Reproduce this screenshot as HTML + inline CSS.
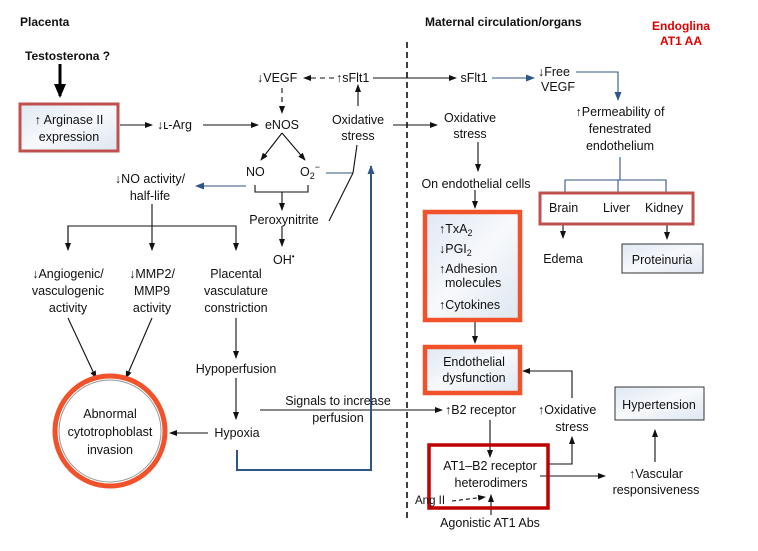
<!DOCTYPE html>
<html><head><meta charset="utf-8"><style>
html,body{margin:0;padding:0;background:#fff;}
svg{display:block;font-family:"Liberation Sans",Arial,sans-serif;}
text{font-size:12.5px;fill:#111;}
.b{font-weight:bold;}
.c{text-anchor:middle;}
</style></head><body>
<svg width="758" height="551" viewBox="0 0 758 551">
<defs>
<marker id="a" markerWidth="8" markerHeight="6" refX="7" refY="3" orient="auto" markerUnits="userSpaceOnUse"><path d="M0,0 L8,3 L0,6z" fill="#111"/></marker>
<marker id="ab" markerWidth="9" markerHeight="7" refX="8" refY="3.5" orient="auto" markerUnits="userSpaceOnUse"><path d="M0,0 L9,3.5 L0,7z" fill="#2f5686"/></marker>
<marker id="ak" markerWidth="14" markerHeight="12" refX="12" refY="6" orient="auto" markerUnits="userSpaceOnUse"><path d="M0,0 L14,6 L0,12z" fill="#000"/></marker>
<linearGradient id="g" x1="0" y1="0" x2="1" y2="1"><stop offset="0" stop-color="#dfe8f3"/><stop offset="0.5" stop-color="#f7f9fc"/><stop offset="1" stop-color="#dde6f1"/></linearGradient>
</defs>
<g stroke="#111" stroke-width="1.1" fill="none">
<line x1="60" y1="64" x2="60" y2="96" stroke-width="3" stroke="#000" marker-end="url(#ak)"/>
<line x1="120" y1="125" x2="152" y2="125" marker-end="url(#a)"/>
<line x1="203" y1="125" x2="258" y2="125" marker-end="url(#a)"/>
<line x1="334" y1="78" x2="304" y2="78" stroke-dasharray="5,4" marker-end="url(#a)"/>
<line x1="282" y1="88" x2="282" y2="113" stroke-dasharray="5,4" marker-end="url(#a)"/>
<line x1="358" y1="106" x2="358" y2="85" marker-end="url(#a)"/>
<line x1="373" y1="78" x2="456" y2="78" marker-end="url(#a)"/>
<line x1="393" y1="125" x2="437" y2="125" marker-end="url(#a)"/>
<line x1="282" y1="133" x2="261" y2="160" marker-end="url(#a)"/>
<line x1="282" y1="133" x2="305" y2="160" marker-end="url(#a)"/>
<polyline points="255,185 255,192 308,192 308,185"/>
<line x1="282" y1="192" x2="282" y2="210" marker-end="url(#a)"/>
<line x1="282" y1="226" x2="282" y2="246" marker-end="url(#a)"/>
<line x1="246" y1="186" x2="196" y2="186" stroke="#2f5686" marker-end="url(#ab)"/>
<line x1="326" y1="173" x2="353" y2="173" stroke="#2f5686"/>
<line x1="353" y1="173" x2="357" y2="145"/>
<line x1="353" y1="173" x2="329" y2="221"/>
<line x1="152" y1="204" x2="152" y2="250" marker-end="url(#a)"/>
<polyline points="68,250 68,226 236,226 236,250" marker-end="url(#a)"/>
<line x1="68" y1="226" x2="68" y2="250" marker-end="url(#a)"/>
<line x1="236" y1="318" x2="236" y2="358" marker-end="url(#a)"/>
<line x1="236" y1="378" x2="236" y2="419" marker-end="url(#a)"/>
<line x1="208" y1="433" x2="170" y2="433" marker-end="url(#a)"/>
<line x1="68" y1="318" x2="96" y2="378" marker-end="url(#a)"/>
<line x1="152" y1="318" x2="126" y2="378" marker-end="url(#a)"/>
<line x1="260" y1="410" x2="442" y2="410" marker-end="url(#a)"/>
<polyline points="237,450 237,470 371,470 371,166" stroke="#2f5686" stroke-width="2" marker-end="url(#ab)"/>
<line x1="407" y1="42" x2="407" y2="520" stroke-dasharray="6,4" stroke-width="1.6"/>
<line x1="492" y1="78" x2="534" y2="78" stroke="#2f5686" marker-end="url(#ab)"/>
<polyline points="576,72 618,72 618,100" stroke="#2f5686" marker-end="url(#ab)"/>
<line x1="478" y1="142" x2="478" y2="171" marker-end="url(#a)"/>
<line x1="475" y1="190" x2="475" y2="208" marker-end="url(#a)"/>
<line x1="620" y1="157" x2="620" y2="180" stroke="#2f5686"/>
<polyline points="565,192 565,180 666,180 666,192" stroke="#2f5686"/>
<line x1="618" y1="180" x2="618" y2="192" stroke="#2f5686"/>
<line x1="563" y1="224" x2="563" y2="238" marker-end="url(#a)"/>
<line x1="667" y1="224" x2="667" y2="239" marker-end="url(#a)"/>
<line x1="475" y1="322" x2="475" y2="343" marker-end="url(#a)"/>
<polyline points="572,398 572,371 523,371" marker-end="url(#a)"/>
<line x1="490" y1="420" x2="490" y2="457" marker-end="url(#a)"/>
<polyline points="548,464 572,464 572,437" marker-end="url(#a)"/>
<line x1="540" y1="476" x2="605" y2="476" marker-end="url(#a)"/>
<line x1="655" y1="462" x2="655" y2="430" marker-end="url(#a)"/>
<line x1="452" y1="501" x2="485" y2="497" stroke-dasharray="4,3" marker-end="url(#a)"/>
<line x1="491" y1="515" x2="491" y2="495" marker-end="url(#a)"/>
</g>
<rect x="20" y="104" width="98" height="47" fill="url(#g)" stroke="#c0504d" stroke-width="3"/>
<rect x="425" y="212" width="95" height="108" fill="url(#g)" stroke="#f2522a" stroke-width="4.5"/>
<rect x="425" y="347" width="95" height="46" fill="url(#g)" stroke="#f2522a" stroke-width="4.5"/>
<rect x="540" y="193" width="153" height="31" fill="none" stroke="#c0504d" stroke-width="3"/>
<rect x="622" y="244" width="81" height="29" fill="url(#g)" stroke="#333" stroke-width="1"/>
<rect x="615" y="387" width="89" height="33" fill="url(#g)" stroke="#333" stroke-width="1"/>
<rect x="429" y="445" width="119" height="63" fill="none" stroke="#c00000" stroke-width="3.5"/>
<circle cx="110" cy="431" r="55" fill="#fff" stroke="#f2522a" stroke-width="5"/>
<circle cx="110" cy="431" r="51" fill="none" stroke="#999" stroke-width="1"/>
<text x="20" y="26" class="b" style="font-size:12px">Placenta</text>
<text x="425" y="26" class="b" style="font-size:12px">Maternal circulation/organs</text>
<text x="681" y="30" class="b c" style="font-size:12px;fill:#e00000">Endoglina</text>
<text x="681" y="45" class="b c" style="font-size:12px;fill:#e00000">AT1 AA</text>
<text x="25" y="60" class="b" style="font-size:12px">Testosterona ?</text>
<text x="69" y="124" class="c">↑ Arginase II</text>
<text x="69" y="141" class="c">expression</text>
<text x="157" y="129">↓ʟ-Arg</text>
<text x="282" y="129" class="c">eNOS</text>
<text x="257" y="82">↓VEGF</text>
<text x="336" y="82">↑sFlt1</text>
<text x="358" y="124" class="c">Oxidative</text>
<text x="358" y="140" class="c">stress</text>
<text x="246" y="176">NO</text>
<text x="300" y="176">O<tspan dy="3" style="font-size:9px">2</tspan><tspan dy="-9" style="font-size:9px">−</tspan></text>
<text x="150" y="183" class="c">↓NO activity/</text>
<text x="150" y="200" class="c">half-life</text>
<text x="284" y="224" class="c">Peroxynitrite</text>
<text x="273" y="264">OH<tspan dy="-5" style="font-size:8px">•</tspan></text>
<text x="68" y="278" class="c">↓Angiogenic/</text>
<text x="68" y="295" class="c">vasculogenic</text>
<text x="68" y="312" class="c">activity</text>
<text x="152" y="278" class="c">↓MMP2/</text>
<text x="152" y="295" class="c">MMP9</text>
<text x="152" y="312" class="c">activity</text>
<text x="236" y="278" class="c">Placental</text>
<text x="236" y="295" class="c">vasculature</text>
<text x="236" y="312" class="c">constriction</text>
<text x="236" y="373" class="c">Hypoperfusion</text>
<text x="237" y="437" class="c">Hypoxia</text>
<text x="338" y="405" class="c">Signals to increase</text>
<text x="338" y="422" class="c">perfusion</text>
<text x="110" y="418" class="c">Abnormal</text>
<text x="110" y="436" class="c">cytotrophoblast</text>
<text x="110" y="454" class="c">invasion</text>
<text x="474" y="82" class="c">sFlt1</text>
<text x="538" y="76">↓Free</text>
<text x="541" y="91">VEGF</text>
<text x="620" y="116" class="c">↑Permeability of</text>
<text x="620" y="133" class="c">fenestrated</text>
<text x="620" y="150" class="c">endothelium</text>
<text x="470" y="122" class="c">Oxidative</text>
<text x="470" y="138" class="c">stress</text>
<text x="476" y="188" class="c">On endothelial cells</text>
<text x="549" y="212">Brain</text>
<text x="603" y="212">Liver</text>
<text x="645" y="212">Kidney</text>
<text x="563" y="263" class="c">Edema</text>
<text x="662" y="264" class="c">Proteinuria</text>
<text x="439" y="233">↑TxA<tspan dy="3" style="font-size:9px">2</tspan></text>
<text x="439" y="253">↓PGI<tspan dy="3" style="font-size:9px">2</tspan></text>
<text x="439" y="273">↑Adhesion</text>
<text x="445" y="287">molecules</text>
<text x="439" y="309">↑Cytokines</text>
<text x="474" y="366" class="c">Endothelial</text>
<text x="474" y="382" class="c">dysfunction</text>
<text x="445" y="414">↑B2 receptor</text>
<text x="538" y="414">↑Oxidative</text>
<text x="572" y="431" class="c">stress</text>
<text x="659" y="409" class="c">Hypertension</text>
<text x="490" y="470" class="c">AT1–B2 receptor</text>
<text x="491" y="487" class="c">heterodimers</text>
<text x="415" y="504" style="font-size:11.5px">Ang II</text>
<text x="490" y="527" class="c">Agonistic AT1 Abs</text>
<text x="656" y="478" class="c">↑Vascular</text>
<text x="656" y="494" class="c">responsiveness</text>
</svg>
</body></html>
